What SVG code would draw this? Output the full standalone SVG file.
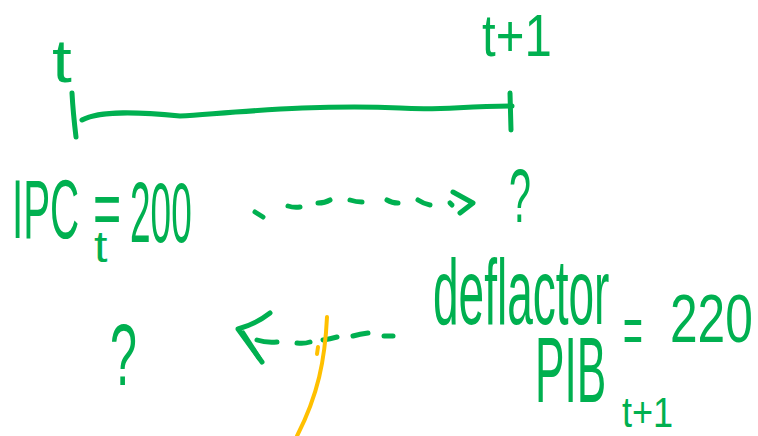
<svg xmlns="http://www.w3.org/2000/svg" width="758" height="436" viewBox="0 0 758 436">
  <style>
    .ink { fill: #00B050; font-family: "Liberation Sans", "DejaVu Sans", sans-serif; }
    .pen { fill: none; stroke: #00B050; stroke-width: 5; stroke-linecap: round; stroke-linejoin: round; }
    .marker { fill: none; stroke: #FFC000; stroke-width: 4; stroke-linecap: round; }
  </style>
  <rect width="758" height="436" fill="#ffffff"/>

  <!-- connectors: timeline, dotted arrows, highlighter stroke -->
  <g id="connectors">
    <!-- timeline from t to t+1 -->
    <path class="pen" d="M72,93 Q73,112 76,137"/>
    <path class="pen" d="M82,120 C100,110 140,112 180,116 C240,112 320,104 400,108 C440,111 460,106 512,106"/>
    <path class="pen" d="M510,93 L511,130"/>

    <!-- forward dotted arrow -->
    <g class="pen">
      <path d="M255,212 L263,217"/>
      <path d="M288,206 Q294,208 300,207"/>
      <path d="M318,203 Q325,203 330,200"/>
      <path d="M350,200 Q356,202 362,202"/>
      <path d="M387,200 Q392,203 398,203"/>
      <path d="M418,200 Q424,204 430,205"/>
      <path d="M450,203 L452,205"/>
      <path d="M453,192 L473,203 L460,213"/>
    </g>

    <!-- backward dashed arrow -->
    <g class="pen">
      <path d="M270,313 Q256,324 238,329 L262,362"/>
      <path d="M243,333 L259,358"/>
      <path d="M257,340 Q266,343 277,342"/>
      <path d="M297,343 Q304,344 310,342"/>
      <path d="M323,340 Q330,339 337,337"/>
      <path d="M353,336 Q360,334 368,333"/>
      <path d="M384,336 L393,336"/>
    </g>

    <!-- highlighter stroke -->
    <path class="marker" d="M327,317 C325,360 318,395 297,436"/>
    <path class="marker" stroke-width="2" d="M318,347 L317,354"/>
  </g>

  <g id="label-t">
    <text class="ink" font-size="62" transform="translate(52,82) scale(1.15,1)">t</text>
  </g>
  <g id="label-t1">
    <text class="ink" font-size="60" transform="translate(482,56) scale(0.82,1)">t+1</text>
  </g>

  <g id="ipc">
    <text class="ink" font-size="84" transform="translate(12,238) scale(0.48,1)">IPC</text>
    <text class="ink" font-size="44" transform="translate(94,262) scale(1.1,1)">t</text>
    <text class="ink" font-size="78" transform="translate(93,235) scale(0.62,1)">=</text>
    <text class="ink" font-size="86" transform="translate(130,242) scale(0.43,1)">200</text>
  </g>

  <g id="unknown-t1">
    <text class="ink" font-size="76" transform="translate(509,222) scale(0.52,1)">?</text>
  </g>

  <g id="unknown-t">
    <text class="ink" font-size="88" transform="translate(110,385) scale(0.55,1)">?</text>
  </g>

  <g id="deflactor">
    <text class="ink" font-size="92" transform="translate(433,324) scale(0.5,1)">deflactor</text>
    <text class="ink" font-size="92" transform="translate(535,402) scale(0.48,1)">PIB</text>
    <text class="ink" font-size="42" transform="translate(622,427) scale(0.86,1)">t+1</text>
    <text class="ink" font-size="68" transform="translate(623,354) scale(0.5,1)">=</text>
    <text class="ink" font-size="68" transform="translate(670,342) scale(0.73,1)">220</text>
  </g>
</svg>
